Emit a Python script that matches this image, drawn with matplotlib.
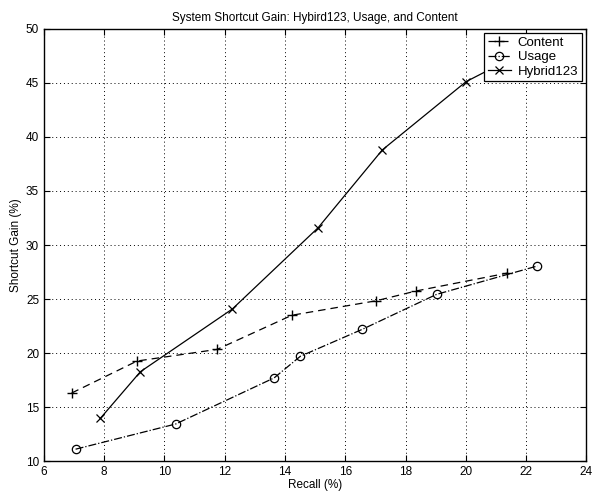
import matplotlib
matplotlib.use("Agg")
import matplotlib.pyplot as plt

plt.rcParams['font.family'] = ['Liberation Sans', 'DejaVu Sans']

# Content (dashed, +)
content_x = [6.92, 9.09, 11.75, 14.23, 17.03, 18.36, 21.38]
content_y = [16.3, 19.26, 20.34, 23.5, 24.84, 25.75, 27.4]

# Usage (dash-dot, o)
usage_x = [7.05, 10.37, 13.64, 14.51, 16.57, 19.03, 22.38]
usage_y = [11.1, 13.43, 17.7, 19.7, 22.2, 25.43, 28.06]

# Hybrid123 (solid, x)
hybrid_x = [7.87, 9.2, 12.25, 15.1, 17.23, 20.01, 22.3]
hybrid_y = [13.95, 18.27, 24.07, 31.6, 38.8, 45.12, 48.4]

fig = plt.figure(figsize=(5.94, 4.99), dpi=100)
ax = fig.add_axes([0.074, 0.076, 0.913, 0.866])

ax.plot(content_x, content_y, '--', color='black', lw=0.9,
        marker='+', ms=7, mew=1.0, label='Content', dashes=(6, 4))
ax.plot(usage_x, usage_y, '-.', color='black', lw=0.9,
        marker='o', ms=6, mfc='none', mew=0.9, label='Usage')
ax.plot(hybrid_x, hybrid_y, '-', color='black', lw=0.9,
        marker='x', ms=6, mew=0.9, label='Hybrid123')

ax.set_xlim(6, 24)
ax.set_ylim(10, 50)
ax.set_xticks(range(6, 25, 2))
ax.set_yticks(range(10, 51, 5))
ax.grid(True, linestyle=(0, (1, 3)), color='black', lw=0.7)
ax.tick_params(direction='in', top=True, right=True, labelsize=8.5,
               length=4, width=0.8, color='black')
for s in ax.spines.values():
    s.set_linewidth(1.0)

ax.set_title('System Shortcut Gain: Hybird123, Usage, and Content', fontsize=8.5, pad=6)
ax.set_xlabel('Recall (%)', fontsize=8.5, labelpad=1)
ax.set_ylabel('Shortcut Gain (%)', fontsize=8.5, labelpad=3)

leg = ax.legend(loc='upper right', fontsize=9.5, frameon=True, fancybox=False,
                edgecolor='black', framealpha=1, borderaxespad=0.3,
                handlelength=1.8, handletextpad=0.5, borderpad=0.3, labelspacing=0.15)
leg.get_frame().set_linewidth(0.9)

fig.savefig('out.png', dpi=100)
